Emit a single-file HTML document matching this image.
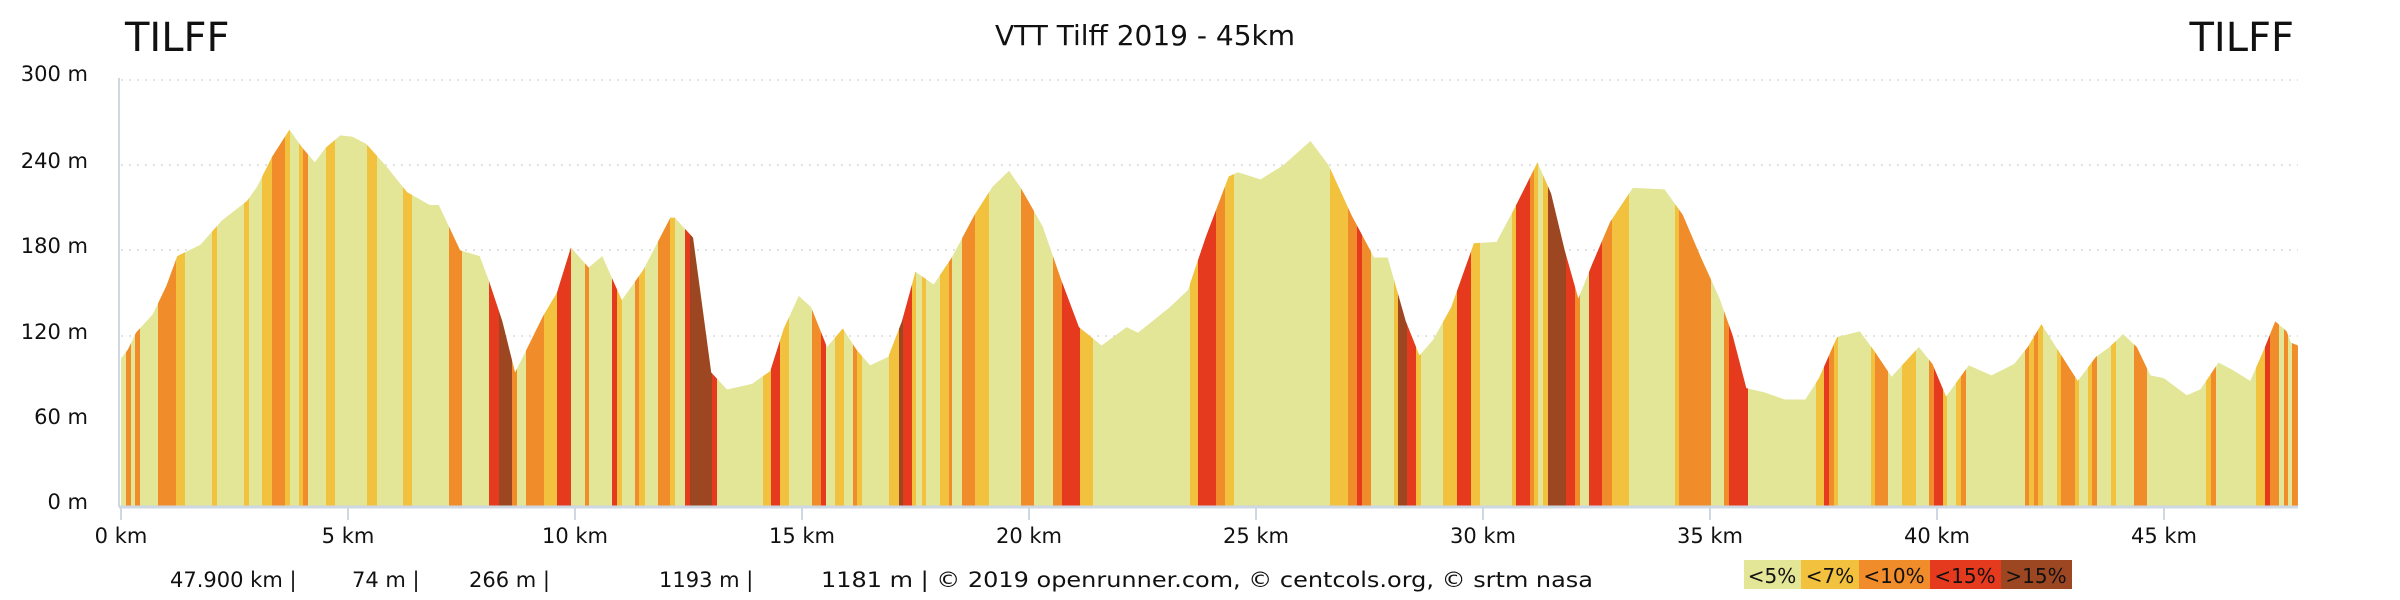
<!DOCTYPE html>
<html><head><meta charset="utf-8">
<style>
html,body{margin:0;padding:0;background:#fff;}
body{width:2400px;height:600px;overflow:hidden;position:relative;font-family:"DejaVu Sans","Liberation Sans",sans-serif;}
.t{position:absolute;white-space:nowrap;color:#111;}
</style></head><body>
<svg width="2400" height="600" style="position:absolute;left:0;top:0" xmlns="http://www.w3.org/2000/svg">
<defs>
<clipPath id="prof">
<polygon transform="translate(121,506) scale(45.4,-1.42)" points="0,0 0,104 0.15,110 0.33,122 0.7,135 1.0,155 1.24,176 1.75,184 2.22,201 2.78,215 3.0,225 3.33,246 3.71,265 4.0,252 4.27,242 4.5,252 4.83,261 5.1,260 5.4,255 5.85,239 6.3,221 6.8,212 7.0,212 7.47,180 7.9,176 8.1,159 8.4,130 8.68,94 8.9,108 9.3,134 9.6,150 9.91,182 10.3,168 10.6,176 11.03,145 11.5,166 12.1,203 12.2,203 12.6,189 13.0,94 13.35,82 13.9,86 14.3,95 14.6,125 14.93,148 15.2,140 15.55,112 15.9,125 16.2,110 16.5,99 16.9,105 17.2,130 17.5,165 17.9,156 18.3,175 18.8,205 19.2,225 19.56,236 19.8,225 20.3,197 20.7,160 21.1,126 21.6,113 22.15,126 22.4,122 23.1,140 23.5,152 23.9,190 24.4,232 24.6,235 25.1,230 25.6,240 26.2,257 26.6,240 27.1,205 27.6,175 27.9,175 28.3,130 28.6,106 28.9,117 29.3,140 29.8,185 30.3,186 30.7,210 31.2,242 31.5,220 31.8,180 32.1,146 32.4,170 32.8,200 33.3,224 34.0,223 34.4,205 34.8,175 35.2,147 35.5,120 35.8,83 36.2,80 36.65,75 37.1,75 37.4,90 37.8,119 38.3,123 38.6,110 39.0,91 39.6,112 39.9,100 40.2,77 40.7,99 41.2,92 41.7,100 42.0,112 42.3,128 42.7,108 43.1,88 43.5,105 43.8,112 44.1,121 44.4,112 44.7,92 45.0,90 45.5,78 45.8,82 46.2,101 46.5,96 46.9,88 47.2,110 47.45,130 47.6,126 47.7,123 47.8,115 47.95,113 47.95,0"/>
</clipPath>
</defs>
<!-- grid -->
<g stroke="#d8d8d8" stroke-width="1.5" stroke-dasharray="2,6">
<line x1="121" y1="80" x2="2298" y2="80"/>
<line x1="121" y1="165" x2="2298" y2="165"/>
<line x1="121" y1="250" x2="2298" y2="250"/>
<line x1="121" y1="336" x2="2298" y2="336"/>
<line x1="121" y1="421" x2="2298" y2="421"/>
</g>
<g clip-path="url(#prof)">
<rect x="115" y="60" width="2190" height="450" fill="#e3e597"/>
<g fill="#f2c13e">
<rect x="176" y="60" width="9" height="450"/><rect x="212" y="60" width="5" height="450"/><rect x="244" y="60" width="5" height="450"/><rect x="262" y="60" width="10" height="450"/><rect x="285" y="60" width="5" height="450"/><rect x="299" y="60" width="4" height="450"/><rect x="326" y="60" width="9" height="450"/><rect x="367" y="60" width="10" height="450"/><rect x="403" y="60" width="9" height="450"/><rect x="544" y="60" width="13" height="450"/><rect x="617" y="60" width="5" height="450"/><rect x="639" y="60" width="6" height="450"/><rect x="670" y="60" width="5" height="450"/>
<rect x="763" y="60" width="8" height="450"/><rect x="780" y="60" width="9" height="450"/><rect x="835" y="60" width="9" height="450"/><rect x="857" y="60" width="5" height="450"/><rect x="889" y="60" width="10" height="450"/><rect x="912" y="60" width="4" height="450"/><rect x="922" y="60" width="4" height="450"/><rect x="940" y="60" width="9" height="450"/><rect x="975" y="60" width="14" height="450"/><rect x="1080" y="60" width="13" height="450"/><rect x="1190" y="60" width="8" height="450"/><rect x="1225" y="60" width="9" height="450"/>
<rect x="1330" y="60" width="18" height="450"/><rect x="1394" y="60" width="4" height="450"/><rect x="1416" y="60" width="5" height="450"/><rect x="1443" y="60" width="14" height="450"/><rect x="1471" y="60" width="9" height="450"/><rect x="1512" y="60" width="4" height="450"/><rect x="1534" y="60" width="4" height="450"/><rect x="1543" y="60" width="5" height="450"/><rect x="1612" y="60" width="17" height="450"/><rect x="1675" y="60" width="4" height="450"/>
<rect x="1816" y="60" width="8" height="450"/><rect x="1834" y="60" width="4" height="450"/><rect x="1871" y="60" width="4" height="450"/><rect x="1902" y="60" width="14" height="450"/><rect x="1943" y="60" width="4" height="450"/><rect x="1956" y="60" width="5" height="450"/><rect x="2029" y="60" width="5" height="450"/><rect x="2038" y="60" width="5" height="450"/><rect x="2057" y="60" width="4" height="450"/><rect x="2075" y="60" width="4" height="450"/><rect x="2088" y="60" width="4" height="450"/><rect x="2111" y="60" width="5" height="450"/><rect x="2206" y="60" width="5" height="450"/><rect x="2256" y="60" width="9" height="450"/>
</g>
<g fill="#f08c2a">
<rect x="126" y="60" width="5" height="450"/><rect x="135" y="60" width="5" height="450"/><rect x="158" y="60" width="18" height="450"/><rect x="272" y="60" width="13" height="450"/><rect x="303" y="60" width="5" height="450"/><rect x="449" y="60" width="13" height="450"/><rect x="512" y="60" width="5" height="450"/><rect x="526" y="60" width="18" height="450"/><rect x="585" y="60" width="4" height="450"/><rect x="635" y="60" width="4" height="450"/><rect x="658" y="60" width="12" height="450"/>
<rect x="812" y="60" width="9" height="450"/><rect x="853" y="60" width="4" height="450"/><rect x="949" y="60" width="3" height="450"/><rect x="962" y="60" width="13" height="450"/><rect x="1021" y="60" width="13" height="450"/><rect x="1053" y="60" width="9" height="450"/><rect x="1216" y="60" width="9" height="450"/>
<rect x="1348" y="60" width="9" height="450"/><rect x="1362" y="60" width="9" height="450"/><rect x="1530" y="60" width="4" height="450"/><rect x="1575" y="60" width="5" height="450"/><rect x="1602" y="60" width="10" height="450"/><rect x="1679" y="60" width="32" height="450"/><rect x="1724" y="60" width="5" height="450"/>
<rect x="1829" y="60" width="5" height="450"/><rect x="1875" y="60" width="13" height="450"/><rect x="1929" y="60" width="5" height="450"/><rect x="1961" y="60" width="5" height="450"/><rect x="2025" y="60" width="4" height="450"/><rect x="2034" y="60" width="4" height="450"/><rect x="2061" y="60" width="14" height="450"/><rect x="2092" y="60" width="5" height="450"/><rect x="2134" y="60" width="13" height="450"/><rect x="2211" y="60" width="5" height="450"/><rect x="2270" y="60" width="9" height="450"/><rect x="2284" y="60" width="4" height="450"/><rect x="2292" y="60" width="8" height="450"/>
</g>
<g fill="#e63a1f">
<rect x="489" y="60" width="10" height="450"/><rect x="557" y="60" width="14" height="450"/><rect x="612" y="60" width="5" height="450"/><rect x="685" y="60" width="5" height="450"/><rect x="712" y="60" width="5" height="450"/><rect x="771" y="60" width="9" height="450"/><rect x="821" y="60" width="5" height="450"/><rect x="903" y="60" width="9" height="450"/><rect x="1062" y="60" width="18" height="450"/><rect x="1198" y="60" width="18" height="450"/>
<rect x="1357" y="60" width="5" height="450"/><rect x="1407" y="60" width="9" height="450"/><rect x="1457" y="60" width="14" height="450"/><rect x="1516" y="60" width="14" height="450"/><rect x="1566" y="60" width="9" height="450"/><rect x="1589" y="60" width="13" height="450"/><rect x="1729" y="60" width="19" height="450"/><rect x="1824" y="60" width="5" height="450"/><rect x="1934" y="60" width="9" height="450"/><rect x="2265" y="60" width="5" height="450"/>
</g>
<g fill="#9c4622">
<rect x="499" y="60" width="13" height="450"/><rect x="690" y="60" width="22" height="450"/><rect x="899" y="60" width="4" height="450"/><rect x="1398" y="60" width="9" height="450"/><rect x="1548" y="60" width="18" height="450"/>
</g>
</g>
<!-- axes -->
<line x1="119" y1="78" x2="119" y2="507" stroke="#cdd8e3" stroke-width="2"/>
<line x1="119" y1="507" x2="2298" y2="507" stroke="#cdd8e3" stroke-width="3"/>
<g stroke="#cdd8e3" stroke-width="2">
<line x1="121" y1="507" x2="121" y2="520"/><line x1="348" y1="507" x2="348" y2="520"/><line x1="575" y1="507" x2="575" y2="520"/><line x1="802" y1="507" x2="802" y2="520"/><line x1="1029" y1="507" x2="1029" y2="520"/><line x1="1256" y1="507" x2="1256" y2="520"/><line x1="1483" y1="507" x2="1483" y2="520"/><line x1="1710" y1="507" x2="1710" y2="520"/><line x1="1937" y1="507" x2="1937" y2="520"/><line x1="2164" y1="507" x2="2164" y2="520"/>
</g>
<g font-family="DejaVu Sans, Liberation Sans, sans-serif" font-size="21" fill="#111" text-anchor="end">
<text x="88" y="81">300 m</text><text x="88" y="168">240 m</text><text x="88" y="253">180 m</text><text x="88" y="339">120 m</text><text x="88" y="424">60 m</text><text x="88" y="509">0 m</text>
</g>
<g font-family="DejaVu Sans, Liberation Sans, sans-serif" font-size="21" fill="#111" text-anchor="middle">
<text x="121" y="543">0 km</text><text x="348" y="543">5 km</text><text x="575" y="543">10 km</text><text x="802" y="543">15 km</text><text x="1029" y="543">20 km</text><text x="1256" y="543">25 km</text><text x="1483" y="543">30 km</text><text x="1710" y="543">35 km</text><text x="1937" y="543">40 km</text><text x="2164" y="543">45 km</text>
</g>
<g font-family="DejaVu Sans, Liberation Sans, sans-serif" fill="#111">
<text x="125" y="51" font-size="40">TILFF</text>
<text x="2294" y="51" font-size="40" text-anchor="end">TILFF</text>
<text x="1145" y="45" font-size="28" text-anchor="middle">VTT Tilff 2019 - 45km</text>
</g>
<g font-family="DejaVu Sans, Liberation Sans, sans-serif" font-size="21" fill="#111">
<text x="170" y="587">47.900 km |</text>
<text x="352" y="587">74 m |</text>
<text x="469" y="587">266 m |</text>
<text x="659" y="587">1193 m |</text>
<text x="821" y="587" textLength="772" lengthAdjust="spacingAndGlyphs">1181 m | © 2019 openrunner.com, © centcols.org, © srtm nasa</text>
</g>
<rect x="1744" y="560" width="57" height="29" fill="#e3e597"/>
<rect x="1801" y="560" width="58" height="29" fill="#f2c13e"/>
<rect x="1859" y="560" width="71" height="29" fill="#f08c2a"/>
<rect x="1930" y="560" width="71" height="29" fill="#e63a1f"/>
<rect x="2001" y="560" width="71" height="29" fill="#9c4622"/>
<g font-family="DejaVu Sans, Liberation Sans, sans-serif" font-size="20" fill="#111" text-anchor="middle">
<text x="1772" y="583">&lt;5%</text><text x="1830" y="583">&lt;7%</text><text x="1894" y="583">&lt;10%</text><text x="1965" y="583">&lt;15%</text><text x="2036" y="583">&gt;15%</text>
</g>
</svg>
</body></html>
